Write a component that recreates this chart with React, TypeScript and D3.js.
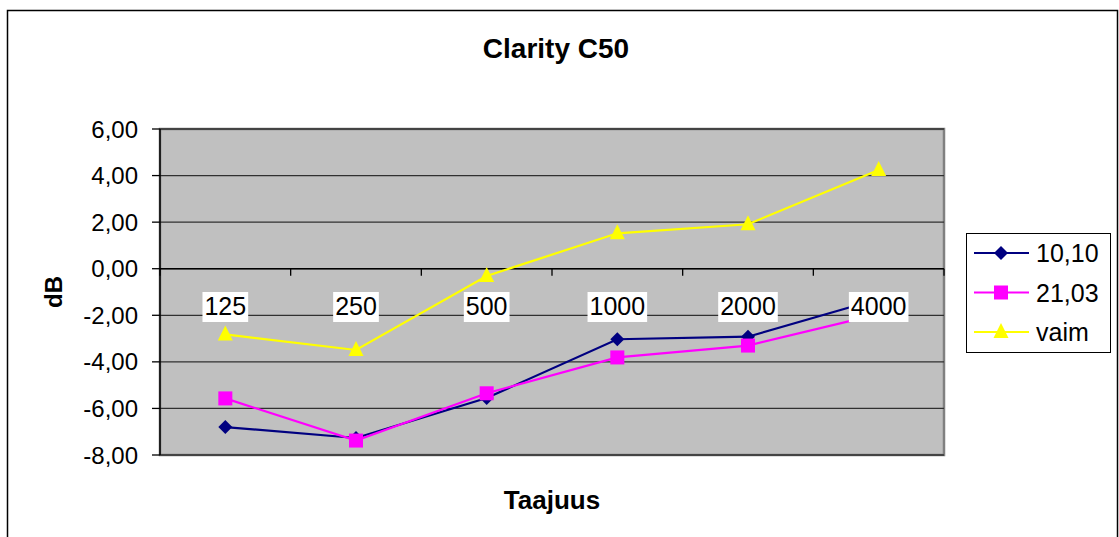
import React from "react";
import * as d3 from "d3";

const categories = ["125", "250", "500", "1000", "2000", "4000"];
const series1010 = [-6.8, -7.27, -5.55, -3.03, -2.92, -1.3];
const series2103 = [-5.57, -7.38, -5.35, -3.81, -3.3, -1.95];
const seriesVaim = [-2.82, -3.49, -0.31, 1.52, 1.91, 4.24];
const yTicks = [-8, -6, -4, -2, 0, 2, 4, 6];
const seriesNames = ["10,10", "21,03", "vaim"];

const W = 1119;
const H = 537;
const plot = { left: 160, top: 129, right: 944, bottom: 455 };

const fmt = (v: number) => v.toFixed(2).replace(".", ",");

function Marker({ kind, x, y, color }: { kind: string; x: number; y: number; color: string }) {
  if (kind === "diamond") {
    const s = 7;
    return <path d={`M${x},${y - s}L${x + s},${y}L${x},${y + s}L${x - s},${y}Z`} fill={color} />;
  }
  if (kind === "square") {
    const s = 7;
    return <rect x={x - s} y={y - s} width={2 * s} height={2 * s} fill={color} />;
  }
  const w = 7.5;
  return <path d={`M${x},${y - 9}L${x + w},${y + 6}L${x - w},${y + 6}Z`} fill={color} />;
}

export default function App() {
  const x = d3.scaleBand<string>().domain(categories).range([plot.left, plot.right]);
  const y = d3.scaleLinear().domain([-8, 6]).range([plot.bottom, plot.top]);
  const cx = (c: string) => (x(c) as number) + x.bandwidth() / 2;
  const line = d3
    .line<number>()
    .x((_, i) => cx(categories[i]))
    .y((d) => y(d));

  const series = [
    { name: seriesNames[0], data: series1010, color: "#000080", kind: "diamond" },
    { name: seriesNames[1], data: series2103, color: "#FF00FF", kind: "square" },
    { name: seriesNames[2], data: seriesVaim, color: "#FFFF00", kind: "triangle" },
  ];

  const y0 = y(0);
  const font = "Arial, 'Liberation Sans', sans-serif";
  const boundaries = [...categories.map((c) => x(c) as number), plot.right];

  return (
    <svg
      width={W}
      height={H}
      style={{ position: "absolute", left: 0, top: 0, display: "block", background: "#fff" }}
      fontFamily={font}
    >
      <rect x={7.5} y={10.5} width={1110} height={560} fill="#fff" stroke="#000" strokeWidth={1.5} />
      <text x={556} y={58} textAnchor="middle" fontSize={28} fontWeight="bold">
        Clarity C50
      </text>

      {/* plot area */}
      <rect
        x={plot.left}
        y={plot.top}
        width={plot.right - plot.left}
        height={plot.bottom - plot.top}
        fill="#C0C0C0"
        stroke="#808080"
        strokeWidth={2.5}
      />
      {yTicks.map((t) => (
        <line
          key={"g" + t}
          x1={plot.left}
          x2={plot.right}
          y1={y(t)}
          y2={y(t)}
          stroke="#303030"
          strokeWidth={1.3}
        />
      ))}
      {/* y axis */}
      <line x1={plot.left} x2={plot.left} y1={plot.top} y2={plot.bottom} stroke="#000" strokeWidth={1.5} />
      {yTicks.map((t) => (
        <g key={"t" + t}>
          <line x1={plot.left - 8} x2={plot.left} y1={y(t)} y2={y(t)} stroke="#000" strokeWidth={1.3} />
          <text x={138} y={y(t) + 8.5} textAnchor="end" fontSize={24}>
            {fmt(t)}
          </text>
        </g>
      ))}
      {/* x axis at 0 */}
      <line x1={plot.left} x2={plot.right} y1={y0} y2={y0} stroke="#000" strokeWidth={1.5} />
      {boundaries.map((b, i) => (
        <line key={"xt" + i} x1={b} x2={b} y1={y0} y2={y0 + 7} stroke="#000" strokeWidth={1.3} />
      ))}

      {/* series */}
      {series.map((s) => (
        <g key={s.name}>
          <path d={line(s.data) as string} fill="none" stroke={s.color} strokeWidth={2.2} />
          {s.data.map((v, i) => (
            <Marker key={i} kind={s.kind} x={cx(categories[i])} y={y(v)} color={s.color} />
          ))}
        </g>
      ))}

      {/* category labels */}
      {categories.map((c) => {
        const w = c.length * 13.9 + 4;
        return (
          <g key={"c" + c}>
            <rect x={cx(c) - w / 2} y={292} width={w} height={30} fill="#fff" />
            <text x={cx(c)} y={315} textAnchor="middle" fontSize={25}>
              {c}
            </text>
          </g>
        );
      })}

      {/* axis titles */}
      <text x={552} y={509} textAnchor="middle" fontSize={26} fontWeight="bold">
        Taajuus
      </text>
      <text
        transform={`translate(62,292) rotate(-90)`}
        textAnchor="middle"
        fontSize={24}
        fontWeight="bold"
      >
        dB
      </text>

      {/* legend */}
      <rect x={966.5} y={233.5} width={144} height={119} fill="#fff" stroke="#000" strokeWidth={1} />
      {series.map((s, i) => {
        const ly = 253 + i * 39.5;
        return (
          <g key={"l" + s.name}>
            <line x1={974} x2={1029} y1={ly} y2={ly} stroke={s.color} strokeWidth={2.2} />
            <Marker kind={s.kind} x={1001} y={ly} color={s.color} />
            <text x={1036} y={ly + 9} fontSize={25}>
              {s.name}
            </text>
          </g>
        );
      })}
    </svg>
  );
}
